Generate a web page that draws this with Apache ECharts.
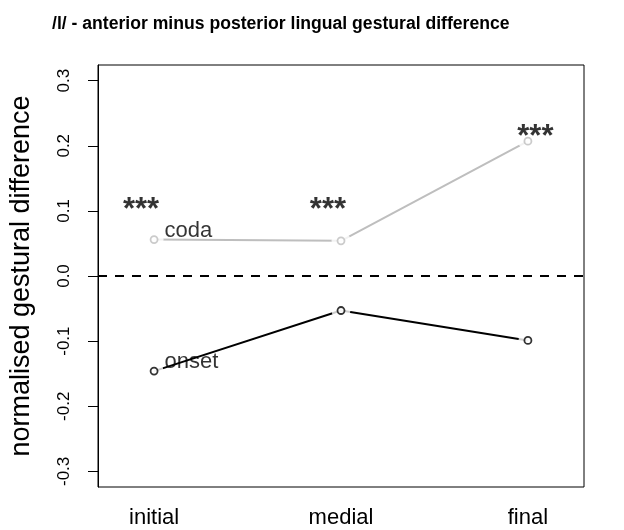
<!DOCTYPE html>
<html>
<head>
<meta charset="utf-8">
<script src="https://cdn.jsdelivr.net/npm/echarts@6/dist/echarts.min.js"></script>
<style>
  html, body { margin: 0; padding: 0; background: #fff; }
  #main { width: 624px; height: 530px; }
</style>
</head>
<body>
<div id="main"></div>
<script>
// positions on the x axis are 1, 2, 3
const categories = ['initial', 'medial', 'final'];
const xPos = [1, 2, 3];
const codaValues = [0.056, 0.054, 0.207];
const onsetValues = [-0.146, -0.053, -0.099];
// significance stars, placed as text
const starX = [0.93, 1.93, 3.04];
const starY = [0.10, 0.10, 0.213];
const starText = ['***', '***', '***'];
const yTicks = [-0.3, -0.2, -0.1, 0.0, 0.1, 0.2, 0.3];

var chartDom = document.getElementById('main');
var myChart = echarts.init(chartDom);
var option;

const font = 'Liberation Sans, Arial, sans-serif';
const grey = '#bebebe';

function pairs(vals) {
    return vals.map((v, i) => [xPos[i], v]);
}

// line + gap + ring, like R type="b"
function seriesFor(name, vals, color) {
    return [
        {
            name: name,
            type: 'line',
            data: pairs(vals),
            symbol: 'none',
            z: 2,
            lineStyle: { color: color, width: 2 }
        },
        {
            type: 'scatter',
            data: pairs(vals),
            symbol: 'circle',
            symbolSize: 19,
            z: 3,
            itemStyle: { color: '#fff' },
            silent: true
        },
        {
            name: name,
            type: 'scatter',
            data: pairs(vals),
            symbol: 'circle',
            symbolSize: 7,
            z: 4,
            itemStyle: { color: '#fff', borderColor: color, borderWidth: 1.8 },
            label: {
                show: true,
                position: 'right',
                distance: 6,
                offset: [0, -9],
                fontFamily: font,
                fontSize: 22,
                color: '#000',
                formatter: function (p) {
                    return p.dataIndex === 0 ? name : '';
                }
            }
        }
    ];
}

option = {
    animation: false,
    backgroundColor: '#fff',
    title: {
        text: '/l/ - anterior minus posterior lingual gestural difference',
        left: 47,
        top: 10,
        textStyle: {
            fontFamily: font,
            fontWeight: 'bold',
            fontSize: 17.6,
            color: '#000'
        }
    },
    grid: {
        left: 97,
        right: 40,
        top: 65,
        bottom: 43,
        show: true,
        borderColor: '#000',
        borderWidth: 1,
        backgroundColor: 'transparent'
    },
    xAxis: {
        type: 'value',
        min: 0.7,
        max: 3.3,
        axisLine: { show: false },
        axisTick: { show: false },
        splitLine: { show: false },
        axisLabel: {
            customValues: xPos,
            formatter: function (v) {
                return categories[Math.round(v) - 1];
            },
            margin: 20,
            fontFamily: font,
            fontSize: 22,
            color: '#000'
        }
    },
    yAxis: {
        type: 'value',
        min: -0.324,
        max: 0.324,
        name: 'normalised gestural difference',
        nameLocation: 'middle',
        nameGap: 63,
        nameTextStyle: {
            fontFamily: font,
            fontSize: 27,
            color: '#000'
        },
        axisLine: { show: true, lineStyle: { color: '#000', width: 1 } },
        axisTick: {
            show: true,
            inside: false,
            length: 10,
            customValues: yTicks,
            lineStyle: { color: '#000' }
        },
        splitLine: { show: false },
        axisLabel: {
            customValues: yTicks,
            rotate: 90,
            margin: 25,
            fontFamily: font,
            fontSize: 17,
            color: '#000',
            formatter: function (v) {
                return v.toFixed(1);
            }
        }
    },
    series: [
        ...seriesFor('coda', codaValues, grey),
        ...seriesFor('onset', onsetValues, '#000'),
        {
            name: 'zero',
            type: 'line',
            data: [],
            markLine: {
                silent: true,
                symbol: ['none', 'none'],
                label: { show: false },
                lineStyle: { color: '#000', width: 2, type: [9, 8] },
                data: [{ yAxis: 0 }]
            }
        },
        {
            name: 'stars',
            type: 'scatter',
            data: starX.map((x, i) => [x, starY[i]]),
            symbolSize: 0,
            z: 5,
            label: {
                show: true,
                position: 'inside',
                fontFamily: font,
                fontWeight: 'bold',
                fontSize: 31,
                color: '#000',
                formatter: function (p) {
                    return starText[p.dataIndex];
                }
            }
        }
    ]
};

option && myChart.setOption(option);
</script>
</body>
</html>
